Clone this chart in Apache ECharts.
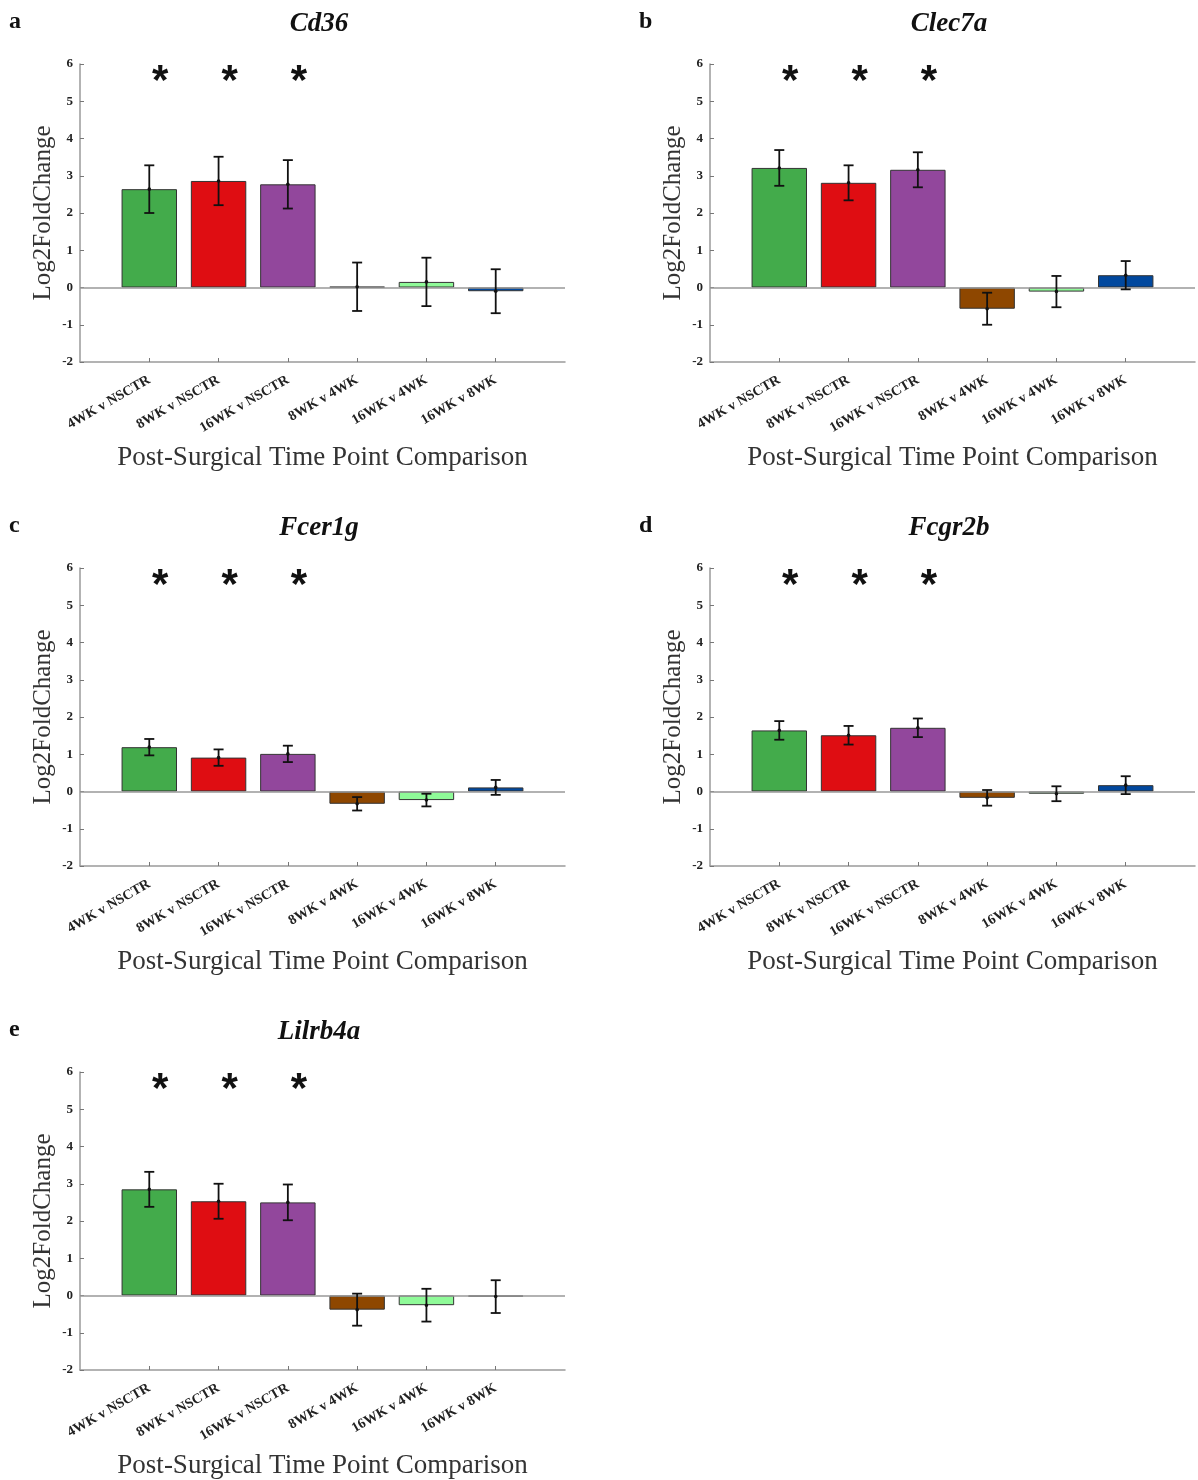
<!DOCTYPE html>
<html>
<head>
<meta charset="utf-8">
<script src="https://cdn.jsdelivr.net/npm/echarts@6/dist/echarts.min.js"></script>
<style>
html,body{margin:0;padding:0;background:#fff;}
#chart{width:1198px;height:1480px;}
</style>
</head>
<body>
<div id="chart"></div>
<script>
// ---- data ----
const categories = ['4WK v NSCTR', '8WK v NSCTR', '16WK v NSCTR', '8WK v 4WK', '16WK v 4WK', '16WK v 8WK'];
const genes = ['Cd36', 'Clec7a', 'Fcer1g', 'Fcgr2b', 'Lilrb4a'];
const panelLetters = ['a', 'b', 'c', 'd', 'e'];
const barColors = ['#43ab4b', '#df0d12', '#92479c', '#8e4700', '#8ffa98', '#01489e'];

const cd36Mean = [2.64, 2.86, 2.77, 0.02, 0.15, -0.10];
const cd36Err = [0.64, 0.65, 0.65, 0.65, 0.65, 0.59];
const clec7aMean = [3.21, 2.81, 3.16, -0.57, -0.11, 0.33];
const clec7aErr = [0.48, 0.47, 0.47, 0.43, 0.42, 0.38];
const fcer1gMean = [1.19, 0.91, 1.01, -0.33, -0.23, 0.11];
const fcer1gErr = [0.22, 0.22, 0.22, 0.18, 0.17, 0.20];
const fcgr2bMean = [1.64, 1.51, 1.71, -0.17, -0.06, 0.17];
const fcgr2bErr = [0.25, 0.25, 0.25, 0.21, 0.20, 0.24];
const lilrb4aMean = [2.85, 2.53, 2.50, -0.38, -0.26, -0.03];
const lilrb4aErr = [0.47, 0.47, 0.48, 0.43, 0.44, 0.44];

const significant = [true, true, true, false, false, false];
const starLevel = 5.5;
const yMin = -2, yMax = 6, yStep = 1;

const xTitle = 'Post-Surgical Time Point Comparison';
const yTitle = 'Log2FoldChange';

// ---- build ----
const means = [cd36Mean, clec7aMean, fcer1gMean, fcgr2bMean, lilrb4aMean];
const errs = [cd36Err, clec7aErr, fcer1gErr, fcgr2bErr, lilrb4aErr];

const FONT = "'Liberation Serif','Times New Roman',serif";
const AXIS_COLOR = '#9a9a9a';
const colX = [0, 630];
const rowY = [0, 504, 1008];
const inRange = (idx) => idx >= 1 && idx <= categories.length;

const option = {
  animation: false,
  backgroundColor: '#fff',
  title: [], grid: [], xAxis: [], yAxis: [], series: []
};

genes.forEach((gene, i) => {
  const x0 = colX[i % 2];
  const y0 = rowY[Math.floor(i / 2)];
  option.title.push({
    text: panelLetters[i], left: 9 + x0, top: 10 + y0, padding: 0,
    textStyle: { fontFamily: FONT, fontWeight: 'bold', fontSize: 24, color: '#111' }
  });
  option.title.push({
    text: gene, left: 319 + x0, top: 11 + y0, padding: 0, textAlign: 'center',
    textStyle: { fontFamily: FONT, fontWeight: 'bold', fontStyle: 'italic', fontSize: 27, color: '#111' }
  });
  option.grid.push({ left: 80 + x0, top: 64 + y0, width: 485, height: 298 });
  option.xAxis.push({
    gridIndex: i, type: 'category', data: [''].concat(categories, ['']),
    boundaryGap: false,
    axisLine: { onZero: false, lineStyle: { color: AXIS_COLOR, width: 1.5 } },
    axisTick: { show: true, inside: true, length: 4, interval: inRange, lineStyle: { color: '#777', width: 1 } },
    axisLabel: { interval: inRange, rotate: 30, margin: 17, fontFamily: FONT, fontWeight: 'bold', fontSize: 14, color: '#222' },
    splitLine: { show: false },
    name: xTitle, nameLocation: 'middle', nameGap: 82,
    nameTextStyle: { fontFamily: FONT, fontSize: 27, color: '#333' }
  });
  option.yAxis.push({
    gridIndex: i, type: 'value', min: yMin, max: yMax, interval: yStep,
    axisLine: { show: true, lineStyle: { color: AXIS_COLOR, width: 1.5 } },
    axisTick: { show: true, inside: true, length: 4, lineStyle: { color: '#777', width: 1 } },
    axisLabel: { margin: 7, fontFamily: FONT, fontWeight: 'bold', fontSize: 13, color: '#222' },
    splitLine: { show: false },
    name: yTitle, nameLocation: 'middle', nameGap: 24,
    nameTextStyle: { fontFamily: FONT, fontSize: 25, color: '#333' }
  });
  const m = means[i], e = errs[i];
  option.series.push({
    type: 'bar', xAxisIndex: i, yAxisIndex: i, barWidth: '80%',
    data: ['-'].concat(m.map((v, k) => ({ value: v, itemStyle: { color: barColors[k] } })), ['-']),
    itemStyle: { borderColor: '#333', borderWidth: 1 },
    markLine: {
      silent: true, symbol: 'none', label: { show: false },
      lineStyle: { color: '#999', width: 1.5, type: 'solid' },
      data: [{ yAxis: 0 }]
    },
    z: 2
  });
  option.series.push({
    type: 'custom', xAxisIndex: i, yAxisIndex: i, z: 5,
    data: m.map((v, k) => [k + 1, v - e[k], v + e[k], v]),
    encode: { x: 0, y: [1, 2] },
    renderItem: (params, api) => {
      const xv = api.value(0);
      const lo = api.coord([xv, api.value(1)]);
      const hi = api.coord([xv, api.value(2)]);
      const mid = api.coord([xv, api.value(3)]);
      const cw = 5;
      const st = { stroke: '#111', lineWidth: 1.8 };
      return {
        type: 'group', children: [
          { type: 'line', shape: { x1: lo[0], y1: lo[1], x2: hi[0], y2: hi[1] }, style: st },
          { type: 'line', shape: { x1: lo[0] - cw, y1: lo[1], x2: lo[0] + cw, y2: lo[1] }, style: st },
          { type: 'line', shape: { x1: hi[0] - cw, y1: hi[1], x2: hi[0] + cw, y2: hi[1] }, style: st },
          { type: 'circle', shape: { cx: mid[0], cy: mid[1], r: 1.8 }, style: { fill: '#111' } }
        ]
      };
    }
  });
  option.series.push({
    type: 'custom', xAxisIndex: i, yAxisIndex: i, z: 5,
    data: significant.map((s, k) => s ? [k + 1, starLevel] : null).filter(d => d),
    encode: { x: 0, y: 1 },
    renderItem: (params, api) => {
      const p = api.coord([api.value(0), api.value(1)]);
      return {
        type: 'text', x: p[0] + 11, y: p[1],
        style: { text: '*', font: "bold 42px 'Liberation Sans', Arial, sans-serif", fill: '#111', textAlign: 'center', textVerticalAlign: 'middle' }
      };
    }
  });
});

const chart = echarts.init(document.getElementById('chart'), null, { renderer: 'canvas' });
chart.setOption(option);
</script>
</body>
</html>
